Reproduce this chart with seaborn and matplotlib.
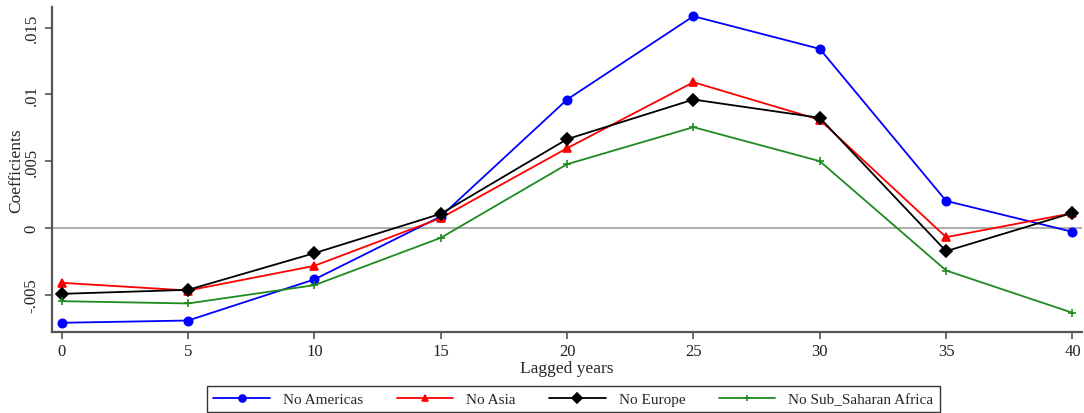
import matplotlib
matplotlib.use("Agg")
import matplotlib.pyplot as plt
import seaborn as sns
import pandas as pd
from matplotlib.lines import Line2D

# Lagged years and coefficient estimates for each sample exclusion
lags = [0, 5, 10, 15, 20, 25, 30, 35, 40]
no_americas = [-0.00712, -0.00695, -0.00387, 0.00085, 0.00962, 0.01587, 0.01342, 0.00202, -0.00030]
no_asia = [-0.00412, -0.00470, -0.00285, 0.00073, 0.00597, 0.01092, 0.00810, -0.00070, 0.00110]
no_europe = [-0.00495, -0.00465, -0.00190, 0.00105, 0.00665, 0.00962, 0.00825, -0.00175, 0.00112]
no_ssa = [-0.00550, -0.00567, -0.00430, -0.00075, 0.00477, 0.00755, 0.00500, -0.00320, -0.00637]

series_names = ["No Americas", "No Asia", "No Europe", "No Sub_Saharan Africa"]
series_values = [no_americas, no_asia, no_europe, no_ssa]

x_ticks = [0, 5, 10, 15, 20, 25, 30, 35, 40]
y_ticks = [-0.005, 0, 0.005, 0.01, 0.015]
y_tick_labels = ["-.005", "0", ".005", ".01", ".015"]

colors = {"No Americas": "#0000ff", "No Asia": "#ff0000",
          "No Europe": "#000000", "No Sub_Saharan Africa": "#1f8a1f"}
markers = {"No Americas": "o", "No Asia": "^",
           "No Europe": "D", "No Sub_Saharan Africa": "+"}

sns.set_style("white")
plt.rcParams["font.family"] = ["Liberation Serif", "DejaVu Serif"]

fig = plt.figure(figsize=(10.84, 4.14), dpi=100)
ax = fig.add_axes([0.048, 0.196, 0.950, 0.785])

ax.axhline(0, color="#a0a0a0", lw=1.2, zorder=1)

for name, vals in zip(series_names, series_values):
    d = pd.DataFrame({"Lagged years": lags, "Coefficients": vals})
    sns.lineplot(data=d, x="Lagged years", y="Coefficients", color=colors[name],
                 marker=markers[name], markersize=6, linewidth=1.3,
                 markeredgewidth=1.2, markeredgecolor=colors[name],
                 ax=ax, zorder=3)

ax.set_xlim(-0.38, 40.37)
ax.set_ylim(-0.0078, 0.01657)
ax.set_xticks(x_ticks)
ax.set_xticklabels([str(t) for t in x_ticks], fontsize=12)
ax.set_yticks(y_ticks)
ax.set_yticklabels(y_tick_labels, fontsize=12, rotation=90, va="center")
ax.set_xlabel("Lagged years", fontsize=12.5, labelpad=1)
ax.set_ylabel("Coefficients", fontsize=12.5)
ax.yaxis.set_label_coords(-0.0265, 0.5)

for side in ["top", "right"]:
    ax.spines[side].set_visible(False)
for side in ["left", "bottom"]:
    ax.spines[side].set_color("#555555")
    ax.spines[side].set_linewidth(1.6)
ax.tick_params(axis="both", direction="out", length=5, width=1.2,
               color="#555555", labelcolor="#222222", pad=3)
ax.tick_params(axis="y", pad=4)
ax.tick_params(axis="both", which="both", bottom=True, left=True)

handles = [Line2D([0], [0], color=colors[n], marker=markers[n], markersize=5,
                  markeredgewidth=1.2, lw=1.3, label=n) for n in series_names]
leg = fig.legend(handles=handles, loc="lower center", ncol=4,
                 bbox_to_anchor=(0.529, -0.005), frameon=True, fontsize=11,
                 handlelength=3.7, columnspacing=2.2, handletextpad=0.85,
                 borderpad=0.4, borderaxespad=0.2, fancybox=False, markerscale=1)
leg.get_frame().set_edgecolor("black")
leg.get_frame().set_linewidth(1.0)

fig.savefig("out.png", dpi=100, facecolor="white")
